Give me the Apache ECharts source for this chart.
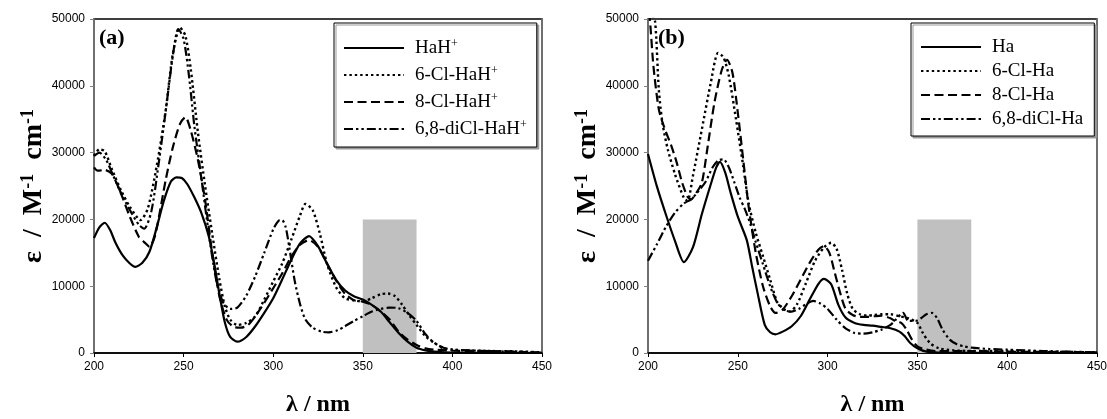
<!DOCTYPE html>
<html>
<head>
<meta charset="utf-8">
<script src="https://cdn.jsdelivr.net/npm/echarts@6/dist/echarts.min.js"></script>
<style>
  html, body { margin: 0; padding: 0; background: #fff; }
  #chart { width: 1107px; height: 419px; }
</style>
</head>
<body>
<div id="chart"></div>
<script>
// wavelength ticks (nm) and epsilon ticks
const xMin = 200, xMax = 450, xStep = 50;
const yMin = 0, yMax = 50000, yStep = 10000;
const shadedBand = [350, 380, 20000]; // from, to, height

// panel (a): protonated forms, [nm, epsilon]
const haH = [[200,17200],[203,18800],[206,19500],[209,18400],[212,16500],[216,14600],[220,13400],[223,12900],[227,13500],[231,15200],[235,18800],[239,22800],[243,25700],[246,26300],[249,26200],[252,25300],[256,23300],[260,20900],[264,17500],[267,13500],[270,8800],[273,4600],[276,2400],[280,1700],[285,2400],[290,4000],[295,6000],[300,8200],[305,11000],[310,13900],[315,16400],[320,17500],[325,16000],[330,13400],[335,11000],[340,9400],[345,8500],[350,8000],[355,7200],[360,6200],[365,4600],[370,3000],[375,1700],[380,800],[385,400],[390,200],[400,50],[450,0]];
const cl6HaH = [[200,29500],[203,30500],[206,30200],[210,27500],[215,24400],[220,21900],[226,19900],[230,21600],[235,28000],[240,36300],[244,44800],[248,48700],[251,47500],[254,42500],[258,33000],[262,25000],[266,17800],[270,11000],[273,7000],[276,5000],[280,4200],[285,4500],[290,5500],[295,8000],[300,10700],[305,13400],[310,16900],[315,20600],[318,22300],[322,21400],[326,17900],[330,13400],[335,9900],[340,8200],[345,7900],[350,7700],[355,8200],[360,8800],[364,8900],[368,8500],[372,7200],[376,5600],[380,4200],[385,2500],[390,1500],[395,700],[400,500],[410,350],[420,300],[435,250],[450,100]];
const cl8HaH = [[200,27800],[202,27300],[206,27400],[210,26800],[215,23900],[220,20400],[225,17400],[228,16600],[231,15900],[234,17500],[237,21500],[240,25900],[244,30800],[248,34300],[251,35300],[254,33300],[258,28900],[262,22900],[266,14900],[270,8500],[274,5000],[278,3900],[282,3800],[286,4200],[290,5500],[295,7500],[300,9700],[305,11900],[310,14400],[315,16200],[320,16900],[325,15900],[330,13400],[335,10900],[340,8900],[345,7900],[350,7700],[355,7200],[360,6200],[365,5000],[370,3200],[375,2000],[380,1200],[385,700],[390,500],[400,350],[420,300],[450,50]];
const diCl68HaH = [[200,29500],[203,30000],[207,28800],[210,27000],[215,24000],[220,21400],[225,19200],[228,18600],[232,21200],[236,28200],[240,36200],[244,44500],[247,48500],[250,47000],[253,41500],[256,34000],[260,26000],[264,18000],[268,11200],[272,7600],[276,6600],[280,6800],[285,8600],[290,11500],[295,15000],[300,18500],[303,19800],[305,19900],[307,18800],[309,15800],[312,10800],[315,7300],[318,5000],[322,3800],[327,3200],[331,3100],[336,3400],[340,4000],[345,4800],[350,5500],[355,6200],[360,6600],[365,6800],[370,6700],[375,6000],[380,4800],[385,2800],[390,1500],[395,800],[400,500],[420,300],[450,50]];

// panel (b): neutral forms, [nm, epsilon]
const ha = [[200,29800],[205,24900],[210,20700],[215,16800],[220,13600],[225,15800],[230,20800],[235,25300],[238,27800],[240,28600],[243,27000],[246,24000],[250,20400],[255,16900],[258,12900],[261,9000],[265,4200],[268,3100],[271,2800],[275,3200],[280,4000],[285,5500],[290,8000],[295,10400],[298,11100],[302,10300],[306,7200],[310,5300],[315,4500],[320,4200],[325,4100],[330,3900],[335,3700],[340,3200],[343,2500],[346,1500],[350,700],[355,200],[365,50],[450,0]];
const cl6Ha = [[200,52000],[202,51000],[204,49500],[206,39500],[208,34500],[211,30500],[215,26800],[220,23200],[222,22800],[225,26500],[230,33500],[235,40500],[239,44900],[242,44300],[245,41500],[249,35000],[253,28000],[256,22500],[260,18000],[264,14500],[268,11000],[272,7600],[276,6500],[279,6200],[283,7300],[288,10500],[293,13800],[298,15800],[302,16500],[305,15600],[308,12500],[311,8800],[314,6600],[318,5800],[322,5600],[326,5700],[330,5800],[335,5800],[340,5500],[345,5200],[350,4500],[353,3000],[357,1500],[362,700],[370,400],[380,300],[400,300],[420,200],[450,100]];
const cl8Ha = [[200,51000],[201,50000],[203,43000],[206,36500],[209,33800],[213,31000],[216,28500],[219,25500],[222,23400],[224,23000],[227,24000],[230,25500],[233,30500],[237,37500],[241,42300],[244,43900],[247,42000],[250,36000],[253,29000],[256,22000],[260,15000],[264,10000],[268,7000],[271,6000],[275,6500],[280,8500],[285,11000],[290,13500],[295,15500],[298,16000],[301,15000],[304,12000],[307,9000],[310,6600],[314,5700],[318,5400],[322,5400],[326,5500],[330,5600],[335,5200],[338,4700],[341,4500],[344,3500],[347,2000],[350,1000],[355,500],[360,300],[380,300],[400,200],[450,100]];
const diCl68Ha = [[200,13800],[205,16300],[210,18900],[215,21000],[220,22400],[224,23000],[228,24200],[232,25600],[236,27800],[239,28800],[242,29000],[245,27800],[248,25600],[251,23300],[254,21500],[257,19300],[260,16600],[264,13300],[268,10000],[272,7500],[276,6400],[280,6200],[284,6600],[288,7300],[292,7800],[296,7400],[300,6600],[305,5000],[310,3700],[315,3000],[320,2900],[325,3100],[330,3500],[335,4200],[338,5000],[342,6000],[345,4800],[349,4800],[352,5200],[355,5800],[358,6000],[361,5200],[364,3500],[368,2000],[372,1300],[376,1000],[380,800],[390,600],[400,500],[420,300],[450,100]];

const namesA = ['HaH+', '6-Cl-HaH+', '8-Cl-HaH+', '6,8-diCl-HaH+'];
const namesB = ['Ha', '6-Cl-Ha', '8-Cl-Ha', '6,8-diCl-Ha'];

const serif = '"Liberation Serif", "Times New Roman", serif';
const sans = '"Liberation Sans", Arial, sans-serif';

// line looks shared by both panels: solid, dotted, dashed, dash-dot-dot
const lineLooks = [
  { type: 'solid', width: 2.2 },
  { type: [2.4, 3], width: 2.4 },
  { type: [9, 4.5], width: 2.2 },
  { type: [9, 3, 2.4, 3, 2.4, 3], width: 2.2 }
];

const chart = echarts.init(document.getElementById('chart'));

function lineSeries(name, data, look, idx) {
  return {
    name: name,
    type: 'line',
    xAxisIndex: idx,
    yAxisIndex: idx,
    data: data,
    smooth: 0.25,
    symbol: 'none',
    showSymbol: false,
    z: 3,
    lineStyle: { color: '#000', width: look.width, type: look.type, cap: 'butt' },
    itemStyle: { color: '#000' }
  };
}

function bandSeries(idx) {
  return {
    type: 'line',
    xAxisIndex: idx,
    yAxisIndex: idx,
    data: [],
    silent: true,
    z: 1,
    markArea: {
      silent: true,
      itemStyle: { color: '#c0c0c0', opacity: 1 },
      data: [[{ xAxis: shadedBand[0], yAxis: 0 }, { xAxis: shadedBand[1], yAxis: shadedBand[2] }]]
    }
  };
}

function xAxisFor(idx) {
  return {
    type: 'value', gridIndex: idx, min: xMin, max: xMax, interval: xStep,
    name: 'λ / nm', nameLocation: 'middle', nameGap: 40,
    nameTextStyle: { fontFamily: serif, fontWeight: 'bold', fontSize: 24, color: '#000' },
    axisLine: { lineStyle: { color: '#000', width: 1.5 } },
    axisTick: { length: 4, lineStyle: { color: '#000' } },
    axisLabel: { fontFamily: sans, fontSize: 12, color: '#000', margin: 8 },
    splitLine: { show: false }
  };
}

function yAxisFor(idx) {
  return {
    type: 'value', gridIndex: idx, min: yMin, max: yMax, interval: yStep,
    name: 'ε  /  M{sup|-1}  cm{sup|-1}', nameLocation: 'middle', nameGap: 40, nameRotate: 90,
    nameTextStyle: {
      fontFamily: serif, fontWeight: 'bold', fontSize: 28, color: '#000',
      rich: { sup: { fontFamily: serif, fontWeight: 'bold', fontSize: 18, verticalAlign: 'top', lineHeight: 15, color: '#000' } }
    },
    axisLine: { lineStyle: { color: '#808080', width: 1.5 } },
    axisTick: { length: 4, lineStyle: { color: '#808080' } },
    axisLabel: { fontFamily: sans, fontSize: 12, color: '#000', margin: 9, formatter: v => String(v) },
    splitLine: { show: false }
  };
}

// right-hand frame edge, gray like the left axis
function frameAxis(idx) {
  return {
    type: 'value', gridIndex: idx, min: yMin, max: yMax, position: 'right',
    axisLine: { show: true, lineStyle: { color: '#808080', width: 1.5 } },
    axisTick: { show: false }, axisLabel: { show: false }, splitLine: { show: false }
  };
}

function legendFor(names, left, gap, padding) {
  return {
    data: names,
    orient: 'vertical',
    left: left,
    top: 23,
    padding: padding,
    itemGap: gap,
    itemWidth: 60,
    itemHeight: 12,
    backgroundColor: '#fff',
    borderColor: '#000',
    borderWidth: 1,
    borderRadius: 0,
    shadowColor: '#999',
    shadowOffsetX: 2,
    shadowOffsetY: 2,
    shadowBlur: 0,
    itemStyle: { opacity: 0 },
    formatter: n => n.replace('+', '{sup|+}'),
    textStyle: {
      fontFamily: serif, fontSize: 19, color: '#000', lineHeight: 20, padding: [0, 0, 0, 6],
      rich: { sup: { fontFamily: serif, fontSize: 12, verticalAlign: 'top', lineHeight: 12, color: '#000' } }
    }
  };
}

const option = {
  animation: false,
  backgroundColor: '#fff',
  title: [
    { text: '(a)', left: 99, top: 27, padding: 0, textStyle: { fontFamily: serif, fontWeight: 'bold', fontSize: 22, color: '#000' } },
    { text: '(b)', left: 658, top: 27, padding: 0, textStyle: { fontFamily: serif, fontWeight: 'bold', fontSize: 22, color: '#000' } }
  ],
  legend: [
    legendFor(namesA, 334, 7, [15, 10, 8, 9]),
    legendFor(namesB, 911, 4, [14, 11, 7, 9])
  ],
  grid: [
    { left: 94, right: 565, top: 19, bottom: 66, containLabel: false, outerBoundsMode: 'none', show: true, borderColor: '#000', borderWidth: 1.5, backgroundColor: 'transparent' },
    { left: 648, right: 10, top: 19, bottom: 66, containLabel: false, outerBoundsMode: 'none', show: true, borderColor: '#000', borderWidth: 1.5, backgroundColor: 'transparent' }
  ],
  xAxis: [xAxisFor(0), xAxisFor(1)],
  yAxis: [yAxisFor(0), yAxisFor(1), frameAxis(0), frameAxis(1)],
  series: [
    bandSeries(0),
    bandSeries(1),
    lineSeries(namesA[0], haH, lineLooks[0], 0),
    lineSeries(namesA[1], cl6HaH, lineLooks[1], 0),
    lineSeries(namesA[2], cl8HaH, lineLooks[2], 0),
    lineSeries(namesA[3], diCl68HaH, lineLooks[3], 0),
    lineSeries(namesB[0], ha, lineLooks[0], 1),
    lineSeries(namesB[1], cl6Ha, lineLooks[1], 1),
    lineSeries(namesB[2], cl8Ha, lineLooks[2], 1),
    lineSeries(namesB[3], diCl68Ha, lineLooks[3], 1)
  ]
};

chart.setOption(option);
</script>
</body>
</html>
